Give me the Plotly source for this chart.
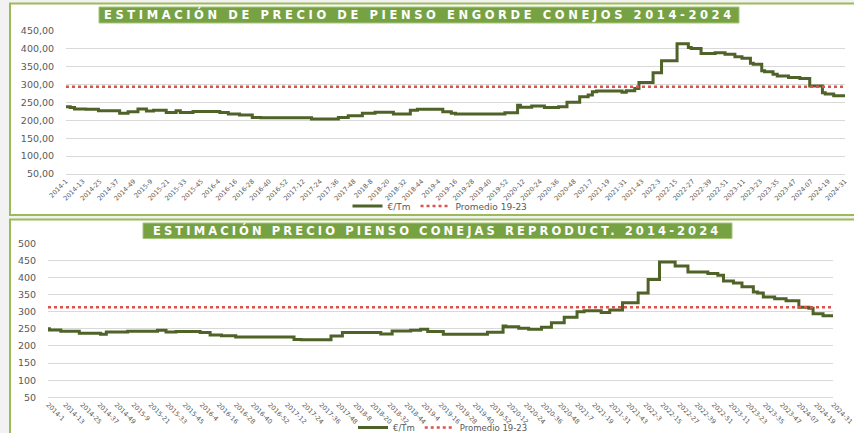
import plotly.graph_objects as go

# ---------------- data ----------------
YEAR_WEEKS = [(2014, 52), (2015, 53), (2016, 52), (2017, 52), (2018, 52), (2019, 52),
              (2020, 53), (2021, 52), (2022, 52), (2023, 52), (2024, 31)]
WEEK_LABELS = []
for yr, n in YEAR_WEEKS:
    for w in range(1, n + 1):
        WEEK_LABELS.append(f"{yr}-{w:02d}" if yr == 2024 else f"{yr}-{w}")
TICK_LABELS = WEEK_LABELS[::12]

# Engorde (fattening) feed price, week where the price changes -> €/Tm
ENG_WEEKS = ["2014-1", "2014-4", "2014-7", "2014-15", "2014-24", "2014-39", "2014-45", "2014-52",
             "2015-6", "2015-11", "2015-20", "2015-27", "2015-30", "2015-39",
             "2016-5", "2016-11", "2016-19", "2016-28", "2016-34",
             "2017-18", "2017-37", "2017-44",
             "2018-2", "2018-11", "2018-24", "2018-36", "2018-41",
             "2019-7", "2019-13", "2019-16", "2019-51",
             "2020-8", "2020-10", "2020-18", "2020-27", "2020-37", "2020-43", "2020-52",
             "2021-5", "2021-8", "2021-11", "2021-29", "2021-32", "2021-38", "2021-41", "2021-51",
             "2022-5", "2022-16", "2022-24", "2022-26", "2022-33", "2022-43", "2022-50",
             "2023-5", "2023-10", "2023-16", "2023-18", "2023-24", "2023-26", "2023-32", "2023-35",
             "2023-43", "2023-51",
             "2024-06", "2024-15", "2024-17", "2024-23", "2024-31"]
ENG_VALUES = [238, 236, 232, 231, 227, 220, 224, 232,
              226, 228, 222, 227, 222, 225,
              222, 218, 215, 208, 207,
              204, 208, 213,
              220, 223, 218, 228, 231,
              224, 220, 218, 221,
              242, 237, 240, 236, 238, 251, 266,
              271, 280, 282, 279, 283, 289, 306, 333,
              367, 414, 404, 401, 387, 389, 385,
              378, 374, 360, 357, 339, 336, 329, 324,
              320, 317,
              296, 277, 274, 269, 269]
ENG_AVG = 294

# Conejas reproductoras (breeding does) feed price
REP_WEEKS = ["2014-1", "2014-2", "2014-10", "2014-23", "2014-38", "2014-42",
             "2015-5", "2015-26", "2015-32", "2015-39",
             "2016-3", "2016-10", "2016-18", "2016-28",
             "2017-17", "2017-22", "2017-43", "2017-51",
             "2018-26", "2018-34", "2018-47",
             "2019-2", "2019-7", "2019-18", "2019-49",
             "2020-8", "2020-10", "2020-19", "2020-26", "2020-35", "2020-42", "2020-51",
             "2021-7", "2021-12", "2021-24", "2021-30", "2021-39", "2021-50",
             "2022-5", "2022-13", "2022-24", "2022-33", "2022-47",
             "2023-2", "2023-6", "2023-13", "2023-19", "2023-27", "2023-30", "2023-34",
             "2023-42", "2023-50",
             "2024-07", "2024-14", "2024-17", "2024-24", "2024-31"]
REP_VALUES = [250, 247, 243, 237, 234, 241,
              243, 246, 241, 242,
              239, 232, 230, 226,
              219, 218, 229, 239,
              235, 244, 246,
              249, 242, 234, 240,
              258, 256, 252, 249, 255, 268, 284,
              300, 303, 298, 305, 326, 355,
              394, 445, 434, 416, 412,
              407, 390, 384, 373, 358, 355, 343,
              338, 332,
              313, 310, 294, 288, 287]
REP_AVG = 313

TITLE_TOP = "ESTIMACIÓN DE PRECIO DE PIENSO ENGORDE CONEJOS 2014-2024"
TITLE_BOT = "ESTIMACIÓN PRECIO PIENSO CONEJAS REPRODUCT. 2014-2024"
SERIES_NAME = "€/Tm"
AVG_NAME = "Promedio 19-23"

# ---------------- styling ----------------
W, H = 854, 433
FONT = "DejaVu Sans"
LINE_C = "#4f6228"
AVG_C = "#d9534f"
GRID_C = "#d9d9d9"
TXT_C = "#595959"
BORDER_C = "#9bbb59"
TITLE_BG = "#77a244"


def px(x):
    return x / W


def py(y):
    return 1 - y / H


fig = go.Figure()

fig.add_trace(go.Scatter(x=ENG_WEEKS, y=ENG_VALUES, mode="lines", name=SERIES_NAME,
                         line=dict(color=LINE_C, width=3, shape="hv"),
                         xaxis="x", yaxis="y", legend="legend"))
fig.add_trace(go.Scatter(x=[WEEK_LABELS[0], WEEK_LABELS[-1]], y=[ENG_AVG, ENG_AVG], mode="lines",
                         name=AVG_NAME, line=dict(color=AVG_C, width=2.5, dash="dot"),
                         xaxis="x", yaxis="y", legend="legend"))
fig.add_trace(go.Scatter(x=REP_WEEKS, y=REP_VALUES, mode="lines", name=SERIES_NAME,
                         line=dict(color=LINE_C, width=3, shape="hv"),
                         xaxis="x2", yaxis="y2", legend="legend2"))
fig.add_trace(go.Scatter(x=[WEEK_LABELS[0], WEEK_LABELS[-1]], y=[REP_AVG, REP_AVG], mode="lines",
                         name=AVG_NAME, line=dict(color=AVG_C, width=2.5, dash="dot"),
                         xaxis="x2", yaxis="y2", legend="legend2"))

xcommon = dict(type="category", categoryorder="array", categoryarray=WEEK_LABELS,
               range=[0, len(WEEK_LABELS) - 1], tickmode="array", tickvals=TICK_LABELS,
               ticktext=TICK_LABELS, showgrid=False, zeroline=False, showline=True,
               linecolor=GRID_C, linewidth=1, ticks="", automargin=False,
               tickfont=dict(family=FONT, size=6.5, color=TXT_C))
ycommon = dict(showgrid=True, gridcolor=GRID_C, gridwidth=1, zeroline=False, showline=False,
               ticks="outside", ticklen=9, tickcolor="rgba(0,0,0,0)", automargin=False, dtick=50,
               tickfont=dict(family=FONT, size=9.5, color=TXT_C))

fig.update_layout(
    width=W, height=H,
    margin=dict(l=0, r=0, t=0, b=0, autoexpand=False),
    paper_bgcolor="#f2f2f2", plot_bgcolor="white",
    separators=",.",
    font=dict(family=FONT, color=TXT_C),
    xaxis=dict(xcommon, domain=[px(66), px(845)], anchor="y", tickangle=-45),
    yaxis=dict(ycommon, domain=[py(174), py(31)], anchor="x", range=[50, 450], tickformat=".2f"),
    xaxis2=dict(xcommon, domain=[px(48), px(833)], anchor="y2", tickangle=45),
    yaxis2=dict(ycommon, domain=[py(397.3), py(243.3)], anchor="x2", range=[50, 500], tickformat="d"),
    legend=dict(orientation="h", x=px(440), xanchor="center", y=py(206), yanchor="middle",
                bgcolor="rgba(0,0,0,0)", font=dict(family=FONT, size=9, color=TXT_C),
                itemwidth=30),
    legend2=dict(orientation="h", x=px(443), xanchor="center", y=py(427.5), yanchor="middle",
                 bgcolor="rgba(0,0,0,0)", font=dict(family=FONT, size=8.5, color=TXT_C),
                 itemwidth=30),
    showlegend=True,
    shapes=[
        dict(type="rect", xref="paper", yref="paper", x0=px(10), x1=px(880), y0=py(215), y1=py(3.5),
             line=dict(color=BORDER_C, width=2), fillcolor="white", layer="below"),
        dict(type="rect", xref="paper", yref="paper", x0=px(10), x1=px(880), y0=py(460), y1=py(219.5),
             line=dict(color=BORDER_C, width=2), fillcolor="white", layer="below"),
        dict(type="rect", xref="paper", yref="paper", x0=px(99), x1=px(739), y0=py(23), y1=py(7),
             line=dict(color="#a6c67a", width=1), fillcolor=TITLE_BG, layer="above"),
        dict(type="rect", xref="paper", yref="paper", x0=px(143), x1=px(732), y0=py(238.5), y1=py(223),
             line=dict(color="#a6c67a", width=1), fillcolor=TITLE_BG, layer="above"),
    ],
    annotations=[
        dict(text=f'<span style="letter-spacing:3.6px"><b>{TITLE_TOP}</b></span>', xref="paper", yref="paper",
             x=px(419), y=py(15), xanchor="center", yanchor="middle", showarrow=False,
             font=dict(family=FONT, size=11.5, color="white")),
        dict(text=f'<span style="letter-spacing:3.1px"><b>{TITLE_BOT}</b></span>', xref="paper", yref="paper",
             x=px(437.5), y=py(230.8), xanchor="center", yanchor="middle", showarrow=False,
             font=dict(family=FONT, size=11.5, color="white")),
    ],
)

fig.write_html("out.html", config={"displayModeBar": False},
               post_script="document.body.style.margin='0';document.body.style.overflow='hidden';")
